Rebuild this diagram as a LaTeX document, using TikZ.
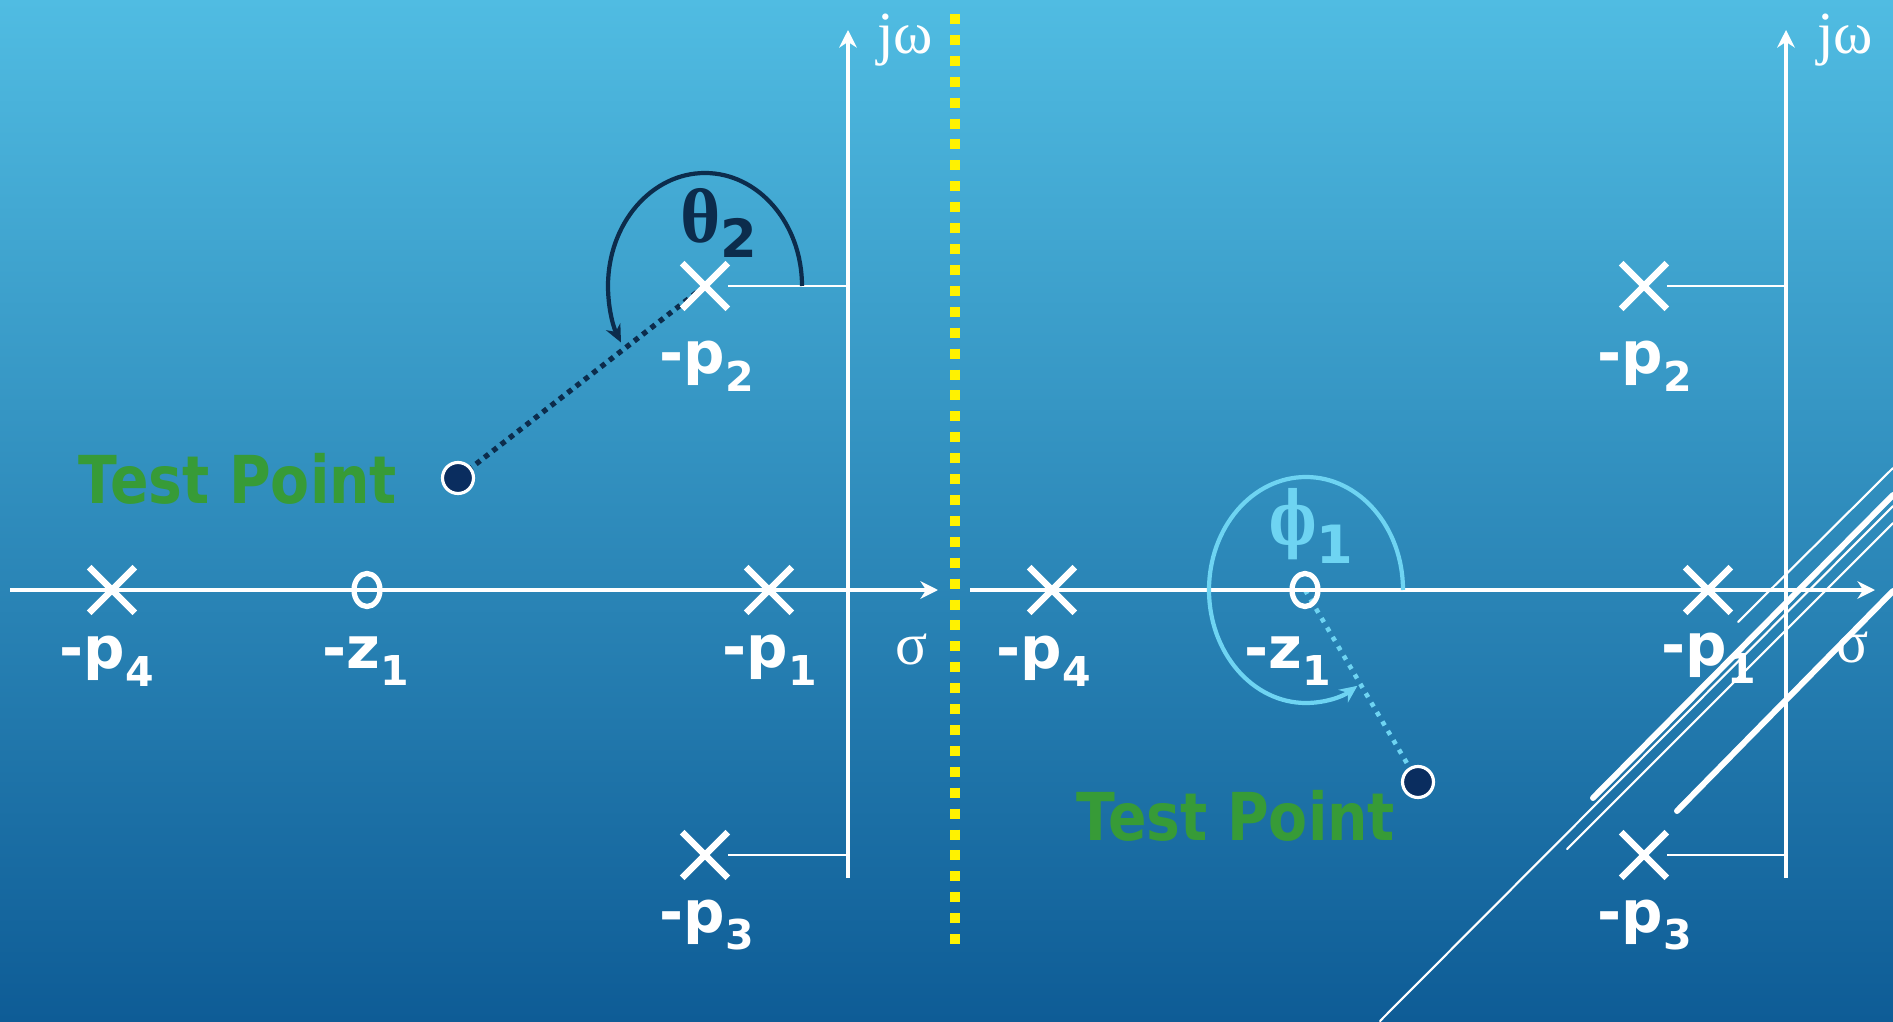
\documentclass[tikz,border=0pt]{standalone}
\usepackage{fontspec}
\setmainfont{DejaVu Sans}
\newfontfamily\greekfont{Liberation Serif}
\newfontfamily\phifont[FakeStretch=0.68]{DejaVu Serif}
\newfontfamily\testfont[FakeStretch=0.86]{DejaVu Sans}
\usetikzlibrary{arrows.meta,shapes.misc,shapes.geometric}
\definecolor{bgtop}{RGB}{80,188,226}
\definecolor{bgbot}{RGB}{14,92,150}
\definecolor{navy}{RGB}{12,44,76}
\definecolor{tpfill}{RGB}{10,45,95}
\definecolor{skyarc}{RGB}{110,212,242}
\definecolor{tpgreen}{RGB}{55,155,55}
\pgfdeclarelayer{bg}
\pgfdeclarelayer{under}
\pgfsetlayers{bg,under,main}
\newcommand{\polelbl}[2]{-#1\raisebox{-5pt}{\fontsize{11.7}{12}\selectfont#2}}
\begin{document}
\begin{tikzpicture}[x=1cm,y=1cm,
  pole/.style={cross out,draw=white,line width=1.9pt,minimum size=0.39cm,inner sep=0pt},
  zero/.style={ellipse,draw=white,line width=1.5pt,minimum width=0.26cm,minimum height=0.33cm,inner sep=0pt},
  lbl/.style={text=white,inner sep=0pt,font=\fontsize{16.5}{18}\selectfont\bfseries},
  axlbl/.style={text=white,inner sep=0pt,font=\greekfont\fontsize{17}{18}\selectfont},
  axis/.style={white,line width=1.15pt,-{Stealth[length=5pt,width=5pt]}},
  arm/.style={white,line width=0.6pt},
  tpt/.style={circle,fill=tpfill,draw=white,line width=0.9pt,minimum size=0.31cm,inner sep=0pt},
  tptext/.style={text=tpgreen,inner sep=0pt,font=\testfont\fontsize{18.8}{20}\selectfont\bfseries},
  angtext/.style={inner sep=0pt,font=\fontsize{15}{16}\selectfont\bfseries},
  navydot/.style={navy,line width=1.5pt,dash pattern=on 1.5pt off 1.5pt},
  skydot/.style={skyarc,line width=1.3pt,dash pattern=on 1.3pt off 1.8pt},
  divider/.style={yellow,line width=2.85pt,dash pattern=on 2.85pt off 3.1pt},
  slash/.style={white,line width=#1,line cap=round}]
\useasboundingbox (0,0) rectangle (18.93,10.21);
\begin{pgfonlayer}{bg}
\shade[top color=bgtop,bottom color=bgbot] (0,0) rectangle (18.93,10.21);
\end{pgfonlayer}

% left plane
\coordinate (sL0) at (0.10,4.31);
\coordinate (sL1) at (9.38,4.31);
\coordinate (wL0) at (8.48,1.43);
\coordinate (wL1) at (8.48,9.91);
\draw[axis] (sL0) -- (sL1);
\draw[axis] (wL0) -- (wL1);
\node[axlbl] (sigL) at (9.12,3.71) {σ};
\node[axlbl] (jwL) at (9.05,9.81) {jω};

\node[pole] (p4L) at (1.12,4.31) {};
\node[zero] (z1L) at (3.67,4.31) {};
\node[pole] (p1L) at (7.69,4.31) {};
\node[pole] (p2L) at (7.05,7.35) {};
\node[pole] (p3L) at (7.05,1.66) {};
\draw[arm] (p2L) -- (p2L -| wL0);
\draw[arm] (p3L) -- (p3L -| wL0);

\node[lbl] (lp4L) at (1.07,3.60) {\polelbl{p}{4}};
\node[lbl] (lz1L) at (3.66,3.60) {\polelbl{z}{1}};
\node[lbl] (lp1L) at (7.70,3.61) {\polelbl{p}{1}};
\node[lbl] (lp2L) at (7.07,6.55) {\polelbl{p}{2}};
\node[lbl] (lp3L) at (7.07,0.96) {\polelbl{p}{3}};

\node[tpt] (tpL) at (4.58,5.43) {};
\node[tptext] (ttL) at (2.38,5.42) {Test Point};
\begin{pgfonlayer}{under}
\draw[navydot] (p2L.center) -- (tpL);
\end{pgfonlayer}
\draw[navy,line width=1.2pt,-{Stealth[length=5pt,width=4.5pt]}]
  (p2L.center) ++(0.97,0) arc[start angle=0,end angle=210,x radius=0.97,y radius=1.13];
\node[angtext,text=navy] (th2) at (7.19,7.98)
  {{\greekfont\fontsize{22}{24}\selectfont θ}\raisebox{-4.5pt}{2}};

% divider
\coordinate (yt) at (9.55,10.07);
\coordinate (yb) at (9.55,0.67);
\draw[divider] (yt) -- (yb);

% right plane
\coordinate (sR0) at (9.70,4.31);
\coordinate (sR1) at (18.75,4.31);
\coordinate (wR0) at (17.86,1.43);
\coordinate (wR1) at (17.86,9.91);
\draw[axis] (sR0) -- (sR1);
\draw[axis] (wR0) -- (wR1);
\node[axlbl] (sigR) at (18.53,3.73) {σ};
\node[axlbl] (jwR) at (18.45,9.81) {jω};

\node[pole] (p4R) at (10.52,4.31) {};
\node[zero] (z1R) at (13.05,4.31) {};
\node[pole] (p1R) at (17.08,4.31) {};
\node[pole] (p2R) at (16.44,7.35) {};
\node[pole] (p3R) at (16.44,1.66) {};
\draw[arm] (p2R) -- (p2R -| wR0);
\draw[arm] (p3R) -- (p3R -| wR0);

\node[lbl] (lp4R) at (10.44,3.60) {\polelbl{p}{4}};
\node[lbl] (lz1R) at (12.88,3.60) {\polelbl{z}{1}};
\node[lbl] (lp1R) at (17.09,3.63) {\polelbl{p}{1}};
\node[lbl] (lp2R) at (16.45,6.55) {\polelbl{p}{2}};
\node[lbl] (lp3R) at (16.45,0.96) {\polelbl{p}{3}};

\node[tpt] (tpR) at (14.18,2.39) {};
\node[tptext] (ttR) at (12.36,2.05) {Test Point};
\begin{pgfonlayer}{under}
\draw[skydot] (z1R.center) -- (tpR);
\end{pgfonlayer}
\draw[skyarc,line width=1.2pt,-{Stealth[length=5pt,width=4.5pt]}]
  (z1R.center) ++(0.98,0) arc[start angle=0,end angle=302,x radius=0.97,y radius=1.13];
\node[angtext,text=skyarc] (ph1) at (13.11,4.95)
  {{\phifont\fontsize{21}{24}\selectfont ϕ}\raisebox{-5.4pt}{1}};

% stray strokes
\draw[slash=0.6pt] (17.38,3.99) -- (18.93,5.53);
\draw[slash=1.7pt] (15.93,2.23) -- (18.93,5.26);
\draw[slash=0.6pt] (13.80,0) -- (18.93,5.15);
\draw[slash=0.6pt] (15.67,1.72) -- (18.93,4.98);
\draw[slash=1.7pt] (16.77,2.10) -- (18.93,4.30);
\end{tikzpicture}
\end{document}
